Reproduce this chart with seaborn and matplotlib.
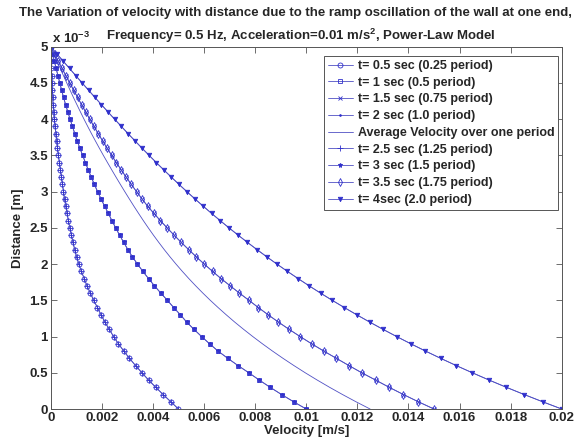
import pandas as pd
import matplotlib
matplotlib.use("Agg")
import matplotlib.pyplot as plt
import seaborn as sns

# distance from the wall, in units of 1e-3 m (axis shows "x 10^-3")
distance = [0.0, 0.1, 0.2, 0.3, 0.4, 0.5, 0.6, 0.7, 0.8, 0.9,
            1.0, 1.1, 1.2, 1.3, 1.4, 1.5, 1.6, 1.7, 1.8, 1.9,
            2.0, 2.1, 2.2, 2.3, 2.4, 2.5, 2.6, 2.7, 2.8, 2.9,
            3.0, 3.1, 3.2, 3.3, 3.4, 3.5, 3.6, 3.7, 3.8, 3.9,
            4.0, 4.1, 4.2, 4.3, 4.4, 4.5, 4.6, 4.7, 4.8, 4.9, 5.0]

# velocity profiles, in units of 1e-3 m/s
vel_wall_005 = [5.00, 4.70, 4.40, 4.11, 3.83, 3.57, 3.32, 3.08, 2.86, 2.65,
                2.46, 2.29, 2.12, 1.97, 1.83, 1.68, 1.55, 1.42, 1.31, 1.20,
                1.10, 1.01, 0.94, 0.87, 0.81, 0.75, 0.69, 0.64, 0.59, 0.54,
                0.50, 0.46, 0.42, 0.38, 0.34, 0.30, 0.265, 0.23, 0.20, 0.17,
                0.14, 0.115, 0.095, 0.075, 0.06, 0.045, 0.035, 0.025, 0.015, 0.007, 0.0]

vel_wall_010 = [10.000, 9.506, 9.035, 8.587, 8.160, 7.754, 7.330, 6.928, 6.548, 6.218,
                5.905, 5.606, 5.321, 5.075, 4.814, 4.566, 4.307, 4.061, 3.828, 3.606,
                3.396, 3.196, 3.021, 2.855, 2.695, 2.542, 2.395, 2.254, 2.109, 1.968,
                1.835, 1.708, 1.587, 1.469, 1.358, 1.250, 1.141, 1.037, 0.942, 0.851,
                0.758, 0.669, 0.584, 0.502, 0.428, 0.355, 0.283, 0.212, 0.141, 0.071, 0.0]

vel_wall_015 = [15.000, 14.388, 13.804, 13.246, 12.713, 12.175, 11.670, 11.177, 10.685, 10.214,
                9.761, 9.327, 8.910, 8.511, 8.127, 7.758, 7.384, 7.024, 6.667, 6.332,
                6.010, 5.698, 5.398, 5.107, 4.827, 4.555, 4.292, 4.038, 3.791, 3.571,
                3.359, 3.153, 2.953, 2.759, 2.570, 2.386, 2.207, 2.032, 1.861, 1.693,
                1.529, 1.368, 1.209, 1.053, 0.899, 0.746, 0.595, 0.446, 0.297, 0.148, 0.0]

vel_wall_020 = [20.000, 19.253, 18.530, 17.831, 17.155, 16.502, 15.870, 15.259, 14.667, 14.095,
                13.540, 13.003, 12.484, 11.980, 11.492, 11.018, 10.559, 10.114, 9.682, 9.262,
                8.854, 8.458, 8.073, 7.698, 7.333, 6.978, 6.632, 6.294, 5.965, 5.643,
                5.328, 5.021, 4.720, 4.425, 4.136, 3.852, 3.573, 3.299, 3.029, 2.763,
                2.500, 2.241, 1.985, 1.731, 1.480, 1.230, 0.982, 0.736, 0.490, 0.245, 0.0]

vel_average = [12.500, 11.948, 11.420, 10.913, 10.428, 9.962, 9.517, 9.089, 8.679, 8.286,
               7.909, 7.548, 7.200, 6.870, 6.552, 6.246, 5.954, 5.674, 5.406, 5.150,
               4.904, 4.669, 4.443, 4.228, 4.019, 3.819, 3.625, 3.438, 3.254, 3.075,
               2.899, 2.726, 2.556, 2.389, 2.224, 2.061, 1.903, 1.748, 1.596, 1.448,
               1.303, 1.163, 1.025, 0.889, 0.758, 0.628, 0.500, 0.374, 0.249, 0.124, 0.0]

labels = ["t= 0.5 sec (0.25 period)", "t= 1 sec (0.5 period)",
          "t= 1.5 sec (0.75 period)", "t= 2 sec (1.0 period)",
          "Average Velocity over one period", "t= 2.5 sec (1.25 period)",
          "t= 3 sec (1.5 period)", "t= 3.5 sec (1.75 period)",
          "t= 4sec (2.0 period)"]
profiles = [vel_wall_005, vel_wall_010, vel_wall_015, vel_wall_020, vel_average,
            vel_wall_005, vel_wall_010, vel_wall_015, vel_wall_020]

sns.set_style("ticks")
plt.rcParams["font.family"] = ["Liberation Sans", "DejaVu Sans"]
plt.rcParams["font.weight"] = "bold"
plt.rcParams["mathtext.fontset"] = "custom"
plt.rcParams["mathtext.rm"] = "Liberation Sans:bold"
plt.rcParams["mathtext.bf"] = "Liberation Sans:bold"
plt.rcParams["mathtext.default"] = "bf"

line_col = "#5050c4"
mark_col = "#3030cc"
# marker, size, face
styles = [("o", 3.6, "none"), ("s", 3.2, "none"), ("x", 2.5, mark_col), (".", 2.5, mark_col),
          (None, 0, mark_col), ("+", 4.0, mark_col), ("*", 3.6, mark_col), ("d", 3.6, "none"),
          ("v", 3.2, mark_col)]

fig = plt.figure(figsize=(5.85, 4.44), dpi=100)
ax = fig.add_axes([0.0867, 0.0788, 0.8735, 0.816])

for lab, prof, (mk, ms, mfc) in zip(labels, profiles, styles):
    df = pd.DataFrame({"v": [p * 1e-3 for p in prof], "d": distance})
    kw = dict(marker=mk, markersize=ms, markerfacecolor=mfc,
              markeredgecolor=mark_col, markeredgewidth=0.6) if mk else {}
    sns.lineplot(data=df, x="v", y="d", sort=False, estimator=None,
                 color=line_col, linewidth=0.6, label=lab, ax=ax, **kw)

ax.set_xlim(0, 0.02)
ax.set_ylim(0, 5)
xt = [0, 0.002, 0.004, 0.006, 0.008, 0.01, 0.012, 0.014, 0.016, 0.018, 0.02]
ax.set_xticks(xt)
ax.set_xticklabels(["0", "0.002", "0.004", "0.006", "0.008", "0.01", "0.012",
                    "0.014", "0.016", "0.018", "0.02"])
yt = [0, 0.5, 1, 1.5, 2, 2.5, 3, 3.5, 4, 4.5, 5]
ax.set_yticks(yt)
ax.set_yticklabels(["0", "0.5", "1", "1.5", "2", "2.5", "3", "3.5", "4", "4.5", "5"])
ax.tick_params(direction="in", top=True, right=True, length=4, width=0.6,
               labelsize=9.5, color="#555555", pad=2)
for s in ax.spines.values():
    s.set_linewidth(0.7)
    s.set_color("#555555")

ax.set_xlabel("Velocity [m/s]", fontsize=9.5, fontweight="bold", labelpad=1)
ax.set_ylabel("Distance [m]", fontsize=9.5, fontweight="bold", labelpad=4)
ax.text(0.003, 1.003, r"x 10$^{-3}$", transform=ax.transAxes, fontsize=9.5,
        fontweight="bold", va="bottom", ha="left")

fig.text(0.505, 0.985, "The Variation of velocity with distance due to the ramp "
         "oscillation of the wall at one end,", ha="center", va="top",
         fontsize=9.5, fontweight="bold")
fig.text(0.515, 0.94, r"Frequency= 0.5 Hz, Acceleration=0.01 m/s$^{2}$, Power-Law Model",
         ha="center", va="top", fontsize=9.5, fontweight="bold")

leg = ax.legend(loc="upper right", bbox_to_anchor=(0.993, 0.974), borderaxespad=0,
                fontsize=9, frameon=True, fancybox=False, framealpha=1,
                edgecolor="#555555", handlelength=2.0, handletextpad=0.4,
                labelspacing=0.38, borderpad=0.3)
leg.get_frame().set_linewidth(0.7)
for t in leg.get_texts():
    t.set_fontweight("bold")

fig.savefig("out.png", dpi=100)
